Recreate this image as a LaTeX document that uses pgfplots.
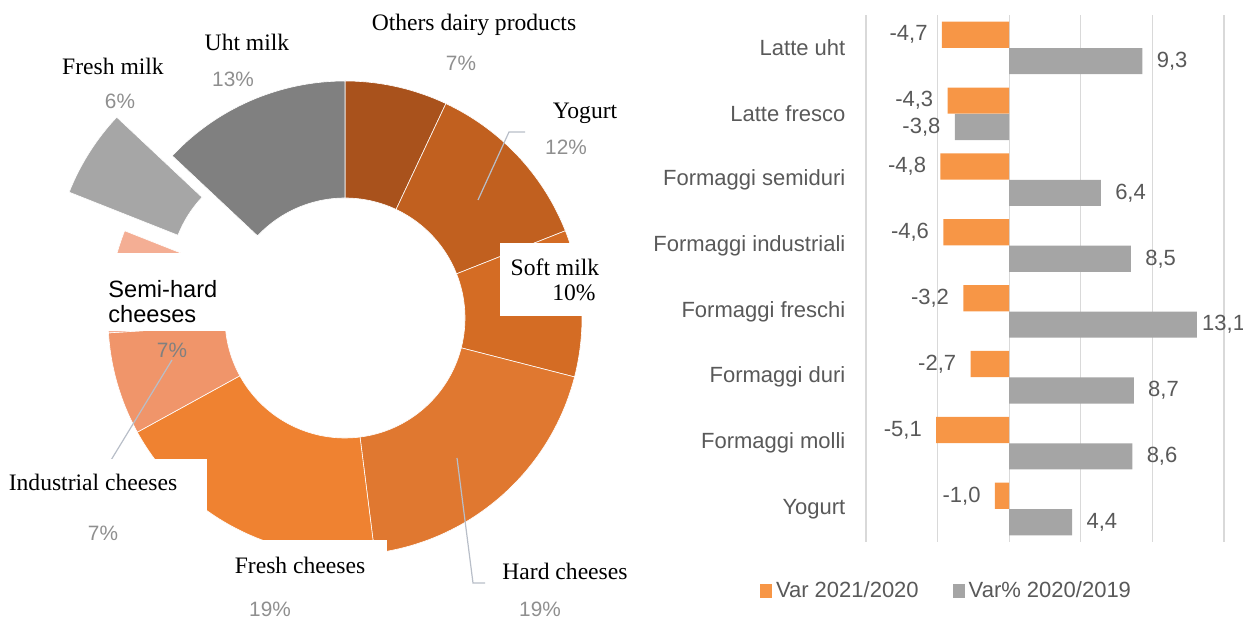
\documentclass[border=0pt]{standalone}
\usepackage{pgfplots}
\pgfplotsset{compat=1.18}
\usepackage{fontspec}
\setmainfont{Liberation Serif}
\setsansfont{Liberation Sans}

\definecolor{cOth}{HTML}{A9521C}
\definecolor{cYog}{HTML}{C1601F}
\definecolor{cSoft}{HTML}{D46C24}
\definecolor{cHard}{HTML}{E07830}
\definecolor{cFresh}{HTML}{EF8231}
\definecolor{cInd}{HTML}{F0956A}
\definecolor{cSemi}{HTML}{F4AE94}
\definecolor{cFmilk}{HTML}{A6A6A6}
\definecolor{cUht}{HTML}{808080}
\definecolor{barO}{HTML}{F79646}
\definecolor{barG}{HTML}{A5A5A5}
\definecolor{txt}{HTML}{595959}
\definecolor{pct}{HTML}{8F8F8F}
\definecolor{lead}{HTML}{B8BEC8}

% donut segment: #1 cumulative start (%), #2 share (%), #3 colour, #4/#5 explode shift (pt)
\newcommand\seg[5]{%
  \pgfmathsetmacro\aS{90-3.6*#1}%
  \pgfmathsetmacro\aE{90-3.6*(#1+#2)}%
  \pgfmathsetmacro\xa{345+237*cos(\aS)}%
  \pgfmathsetmacro\ya{-318+237*sin(\aS)}%
  \pgfmathsetmacro\xb{345+120*cos(\aE)}%
  \pgfmathsetmacro\yb{-318+120*sin(\aE)}%
  \edef\tmp{\noexpand\fill[#3,draw=white,line width=0.3pt,xshift=#4pt,yshift=#5pt]
    (axis cs:\xa,\ya) arc[start angle=\aS,end angle=\aE,radius=118.5pt]
    -- (axis cs:\xb,\yb) arc[start angle=\aE,end angle=\aS,radius=60pt] -- cycle;}%
  \tmp}

\newcommand\serifl{\rmfamily\fontsize{11.8}{14}\selectfont}
\newcommand\pctl{\sffamily\fontsize{10.4}{12}\selectfont\color{pct}}

% x = value, y = category position, dx = label offset (pt)
\pgfplotstableread{
x y dx
-4.7 8 -6
-4.3 7 -6
-4.8 6 -6
-4.6 5 -6
-3.2 4 -6
-2.7 3 -6
-5.1 2 -6
-1.0 1 -6
}\varA
\pgfplotstableread{
x y dx
9.3 8 6
-3.8 7 -6
6.4 6 6
8.5 5 6
13.1 4 1.5
8.7 3 6
8.6 2 6
4.4 1 6
}\varB

\begin{document}
\begin{tikzpicture}
\path[use as bounding box] (0,0) rectangle (621.5pt,-309.5pt);

% ---------------- donut ----------------
\begin{axis}[at={(0pt,0pt)}, anchor=north west, x=0.5pt, y=0.5pt,
  xmin=0, xmax=640, ymin=-619, ymax=0, hide axis, clip=false, scale only axis]
\seg{0}{7}{cOth}{0}{0}
\seg{7}{12}{cYog}{0}{0}
\seg{19}{10}{cSoft}{0}{0}
\seg{29}{19}{cHard}{0}{0}
\seg{48}{19}{cFresh}{0}{0}
\seg{67}{7}{cInd}{0}{0}
\seg{74}{7}{cSemi}{0}{0}
\seg{81}{6}{cFmilk}{-27.75}{19.3}
\seg{87}{13}{cUht}{0}{0}

% leader lines
\draw[lead,line width=0.6pt] (axis cs:478,-200) -- (axis cs:509,-132) -- (axis cs:525,-132);
\draw[lead,line width=0.6pt] (axis cs:457,-458) -- (axis cs:473,-583) -- (axis cs:485,-583);
\draw[lead,line width=0.6pt] (axis cs:172,-360) -- (axis cs:105,-470);

% white label boxes
\node[fill=white,inner sep=0pt,minimum width=70pt,minimum height=36.5pt,anchor=north west] at (axis cs:500,-243) {};
\node[fill=white,inner sep=0pt,minimum width=82pt,minimum height=39pt,anchor=north west] at (axis cs:96,-253) {};
\node[fill=white,inner sep=0pt,minimum width=103.5pt,minimum height=27pt,anchor=north west] at (axis cs:0,-459) {};
\node[fill=white,inner sep=0pt,minimum width=90pt,minimum height=22pt,anchor=north west] at (axis cs:207,-540) {};

% labels
\node[font=\serifl] at (axis cs:474,-25) {Others dairy products};
\node[font=\pctl] at (axis cs:461,-63) {7\%};
\node[font=\serifl] at (axis cs:247,-42) {Uht milk};
\node[font=\pctl] at (axis cs:233,-79) {13\%};
\node[font=\serifl] at (axis cs:113,-66) {Fresh milk};
\node[font=\pctl] at (axis cs:120,-101) {6\%};
\node[font=\serifl] at (axis cs:585,-113) {Yogurt};
\node[font=\pctl] at (axis cs:566,-147) {12\%};
\node[font=\serifl] at (axis cs:555,-267) {Soft milk};
\node[font=\serifl] at (axis cs:574,-293) {10\%};
\node[font=\sffamily\fontsize{11.8}{14}\selectfont,anchor=west,inner sep=0pt] at (axis cs:108,-289) {Semi-hard};
\node[font=\sffamily\fontsize{11.8}{14}\selectfont,anchor=west,inner sep=0pt] at (axis cs:108,-314) {cheeses};
\node[font=\sffamily\fontsize{10.4}{12}\selectfont,text=cUht] at (axis cs:172,-350) {7\%};
\node[font=\serifl] at (axis cs:93,-482) {Industrial cheeses};
\node[font=\pctl] at (axis cs:103,-533) {7\%};
\node[font=\serifl] at (axis cs:300,-565) {Fresh cheeses};
\node[font=\pctl] at (axis cs:270,-609) {19\%};
\node[font=\serifl] at (axis cs:565,-571) {Hard cheeses};
\node[font=\pctl] at (axis cs:540,-609) {19\%};
\end{axis}

% ---------------- bars ----------------
\begin{axis}[at={(433pt,-7.5pt)}, anchor=north west,
  scale only axis, width=179pt, height=263.5pt,
  xmin=-10, xmax=15, ymin=0.5, ymax=8.5,
  xbar, bar width=13.1pt,
  xtick={-10,-5,0,5,10,15}, xticklabels={},
  xmajorgrids, major grid style={draw=black!15, line width=0.6pt},
  ytick={1,...,8},
  yticklabels={Yogurt,Formaggi molli,Formaggi duri,Formaggi freschi,Formaggi industriali,Formaggi semiduri,Latte fresco,Latte uht},
  yticklabel style={xshift=-6.8pt},
  axis line style={draw=none}, major tick length=0pt,
  tick label style={font=\sffamily\fontsize{11}{13}\selectfont, text=txt},
  point meta=x,
  visualization depends on={\thisrow{dx} \as \dx},
  nodes near coords={\pgfmathprintnumber[fixed,fixed zerofill,precision=1,use comma,assume math mode=true]{\pgfplotspointmeta}},
  nodes near coords align={horizontal},
  every node near coord/.append style={font=\sffamily\fontsize{11}{13}\selectfont, text=txt, inner sep=1pt, xshift=\dx pt},
  legend columns=2,
  legend style={draw=none, at={(0.2277,-0.093)}, anchor=center,
    font=\sffamily\fontsize{11}{13}\selectfont, text=txt,
    /tikz/every even column/.append style={column sep=15pt}},
  legend image code/.code={\fill[#1,draw=none] (0pt,-3.5pt) rectangle (6pt,3.5pt);},
  clip=false
]
\addplot[fill=barO, draw=none, bar shift=6.6pt] table[x=x,y=y] {\varA};
\addplot[fill=barG, draw=none, bar shift=-6.6pt] table[x=x,y=y] {\varB};
\legend{Var 2021/2020, Var\% 2020/2019}
\end{axis}
\end{tikzpicture}
\end{document}
